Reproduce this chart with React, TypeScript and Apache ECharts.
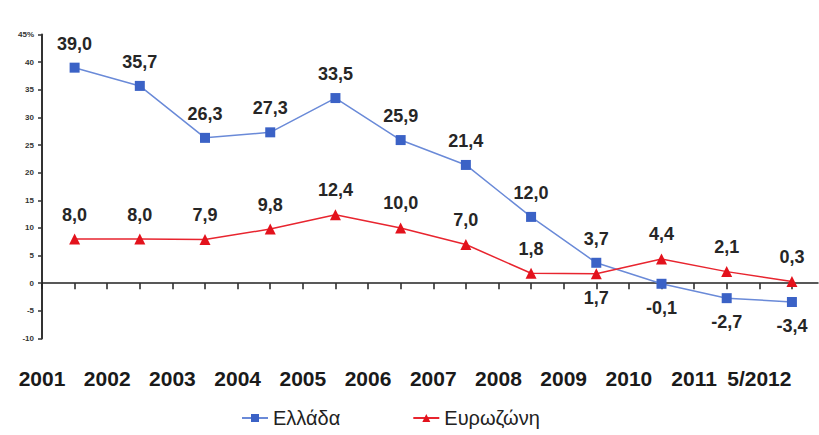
import React, { useEffect, useRef } from "react";
import * as echarts from "echarts";

const categories = ["2001", "2002", "2003", "2004", "2005", "2006", "2007", "2008", "2009", "2010", "2011", "5/2012"];
const greece = [39.0, 35.7, 26.3, 27.3, 33.5, 25.9, 21.4, 12.0, 3.7, -0.1, -2.7, -3.4];
const eurozone = [8.0, 8.0, 7.9, 9.8, 12.4, 10.0, 7.0, 1.8, 1.7, 4.4, 2.1, 0.3];
const greeceLabelBelow = [9, 10, 11];
const eurozoneLabelBelow = [8];
const seriesNames = ["Ελλάδα", "Ευρωζώνη"];

const fmt = (v: number) => v.toFixed(1).replace(".", ",");

export default function App() {
  const ref = useRef<HTMLDivElement>(null);
  useEffect(() => {
    if (!ref.current) return;
    const chart = echarts.init(ref.current, null, { renderer: "svg" });
    const labelStyle = {
      show: true,
      fontSize: 18,
      fontWeight: "bold",
      color: "#262626",
      fontFamily: "Liberation Sans, Arial, sans-serif",
      distance: 10,
      formatter: (p: any) => fmt(p.value[1]),
    };
    const build = (vals: number[], below: number[]) =>
      vals.map((v, i) => ({
        value: [i, v],
        label: { position: below.includes(i) ? "bottom" : "top" },
      }));
    chart.setOption({
      animation: false,
      backgroundColor: "#ffffff",
      textStyle: { fontFamily: "Liberation Sans, Arial, sans-serif" },
      grid: { left: 42, right: 1, top: 34.5, bottom: 96.5, containLabel: false, outerBoundsMode: "none" },
      xAxis: {
        type: "value",
        min: -0.5,
        max: 11.4,
        interval: 0.5,
        splitLine: { show: false },
        axisLine: { show: true, onZero: true, lineStyle: { color: "#222", width: 1.5 } },
        axisTick: { show: true, inside: false, length: 6, lineStyle: { color: "#222", width: 1.5 } },
        axisLabel: {
          show: true,
          margin: 29,
          fontSize: 21,
          fontWeight: "bold",
          color: "#1a1a1a",
          showMaxLabel: false,
          formatter: (v: number) => {
            const k = v + 0.5;
            const r = Math.round(k);
            if (Math.abs(k - r) < 1e-6 && r >= 0 && r < categories.length) return categories[r];
            return "";
          },
        },
      },
      yAxis: {
        type: "value",
        min: -10,
        max: 45,
        interval: 5,
        splitLine: { show: false },
        axisLine: { show: true, onZero: false, lineStyle: { color: "#333", width: 2 } },
        axisTick: { show: true, inside: false, length: 4, lineStyle: { color: "#333", width: 1.5 } },
        axisLabel: {
          fontSize: 8,
          fontWeight: "bold",
          color: "#333",
          margin: 8,
          formatter: (v: number) => (v === 45 ? "45%" : String(v)),
        },
      },
      legend: {
        bottom: 2,
        left: 236,
        itemGap: 72,
        itemWidth: 26,
        itemHeight: 10,
        textStyle: { fontSize: 20, color: "#222" },
        data: seriesNames,
      },
      series: [
        {
          name: seriesNames[0],
          type: "line",
          data: build(greece, greeceLabelBelow),
          symbol: "rect",
          symbolSize: 10,
          lineStyle: { color: "#6a8ad8", width: 1.5 },
          itemStyle: { color: "#3b62c6" },
          label: labelStyle,
          z: 3,
        },
        {
          name: seriesNames[1],
          type: "line",
          data: build(eurozone, eurozoneLabelBelow),
          symbol: "triangle",
          symbolSize: 11,
          lineStyle: { color: "#e8252f", width: 1.5 },
          itemStyle: { color: "#e3121c" },
          label: labelStyle,
          z: 4,
        },
      ],
    });
    return () => chart.dispose();
  }, []);
  return (
    <div
      ref={ref}
      style={{ position: "fixed", left: 0, top: 0, width: 819, height: 435, background: "#fff" }}
    />
  );
}
